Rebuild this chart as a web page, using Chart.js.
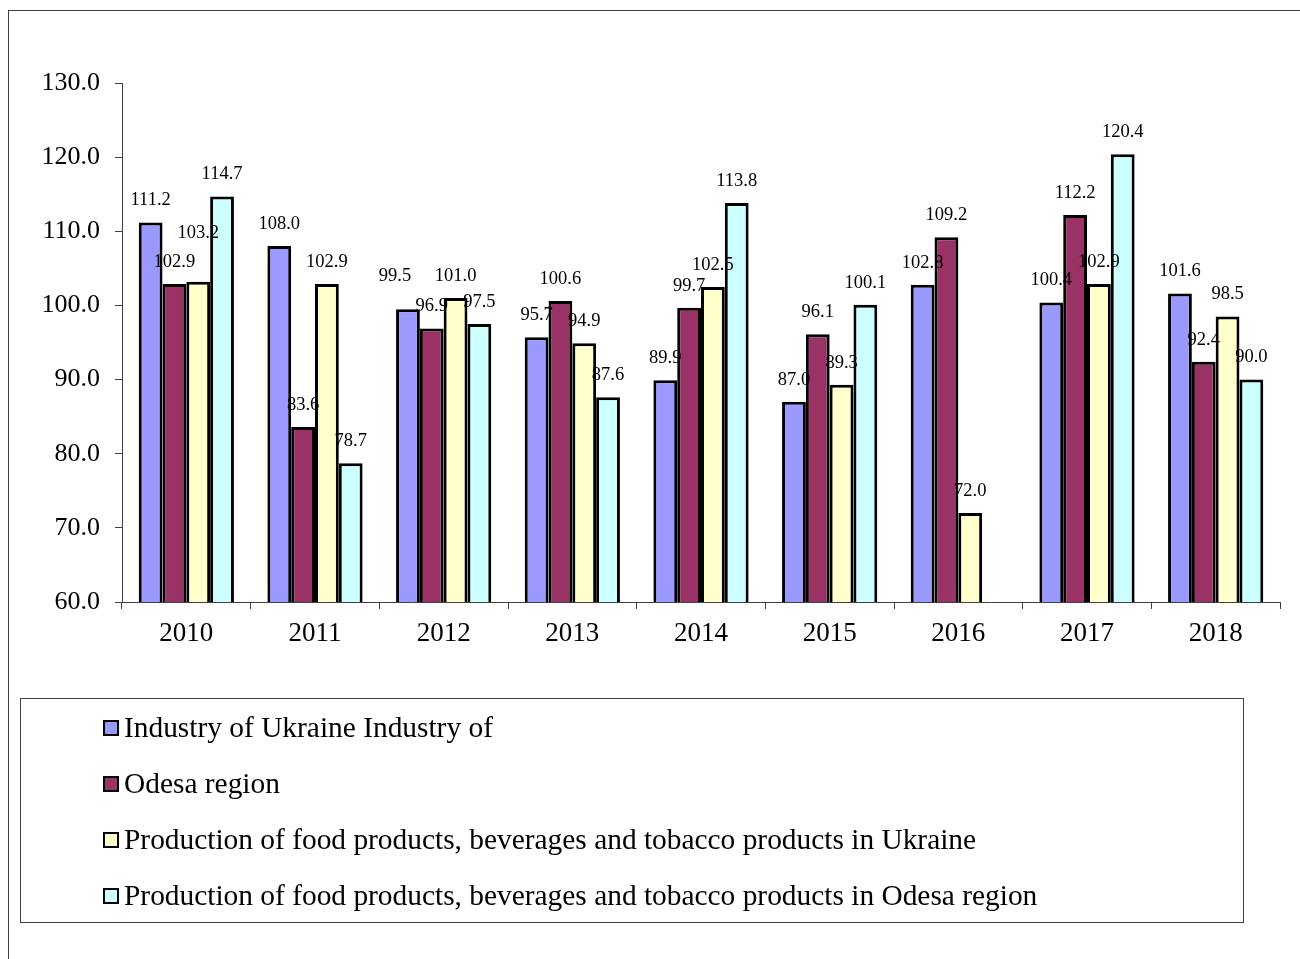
<!DOCTYPE html>
<html>
<head>
<meta charset="utf-8">
<script src="https://cdn.jsdelivr.net/npm/chart.js@4.4.0/dist/chart.umd.min.js"></script>
<style>
    html, body { margin: 0; padding: 0; background: #fff; }
    #wrap { width: 1300px; height: 959px; }
</style>
</head>
<body>
<div id="wrap"><canvas id="chart" width="1300" height="959"></canvas></div>
<script>
const years = ['2010', '2011', '2012', '2013', '2014', '2015', '2016', '2017', '2018'];
const industryUkraine = [111.2, 108.0, 99.5, 95.7, 89.9, 87.0, 102.8, 100.4, 101.6];
const industryOdesa = [102.9, 83.6, 96.9, 100.6, 99.7, 96.1, 109.2, 112.2, 92.4];
const foodUkraine = [103.2, 102.9, 101.0, 94.9, 102.5, 89.3, 72.0, 102.9, 98.5];
const foodOdesa = [114.7, 78.7, 97.5, 87.6, 113.8, 100.1, null, 120.4, 90.0];
const seriesNames = [
    'Industry of Ukraine Industry of',
    'Odesa region',
    'Production of food products, beverages and tobacco products in Ukraine',
    'Production of food products, beverages and tobacco products in Odesa region'
];
const seriesColors = ['#9999ff', '#993366', '#ffffcc', '#ccffff'];
const yMin = 60, yMax = 130, yStep = 10;

// a couple of labels were dragged by hand in the original
const labelNudge = { '2-0': [0, -27], '0-2': [-13, -11] };

const serif = '"Liberation Serif", "Times New Roman", serif';

const frame = {
    id: 'frame',
    beforeDraw(chart) {
        const ctx = chart.ctx;
        ctx.save();
        ctx.fillStyle = '#fff';
        ctx.fillRect(0, 0, chart.width, chart.height);
        ctx.strokeStyle = '#404040';
        ctx.lineWidth = 1;
        ctx.strokeRect(8.5, 10.5, 1300, 960);
        ctx.restore();
    }
};

const barLabels = {
    id: 'barLabels',
    afterDatasetsDraw(chart) {
        const ctx = chart.ctx;
        ctx.save();
        ctx.font = '18.5px ' + serif;
        ctx.fillStyle = '#000';
        ctx.textAlign = 'center';
        ctx.textBaseline = 'middle';
        chart.data.datasets.forEach((ds, di) => {
            chart.getDatasetMeta(di).data.forEach((bar, i) => {
                const v = ds.data[i];
                if (v == null) return;
                const n = labelNudge[di + '-' + i] || [0, 0];
                ctx.fillText(v.toFixed(1), bar.x + n[0], bar.y - 22 + n[1]);
            });
        });
        ctx.restore();
    }
};

const boxLegend = {
    id: 'boxLegend',
    afterDraw(chart) {
        const ctx = chart.ctx;
        ctx.save();
        ctx.strokeStyle = '#404040';
        ctx.lineWidth = 1;
        ctx.strokeRect(20.5, 698.5, 1223, 224);
        ctx.font = '29.4px ' + serif;
        ctx.textBaseline = 'middle';
        ctx.textAlign = 'left';
        chart.data.datasets.forEach((ds, i) => {
            const cy = 728 + i * 56;
            ctx.fillStyle = ds.backgroundColor;
            ctx.fillRect(104, cy - 7, 14, 14);
            ctx.strokeStyle = '#000';
            ctx.lineWidth = 2;
            ctx.strokeRect(104, cy - 7, 14, 14);
            ctx.fillStyle = '#000';
            ctx.fillText(ds.label, 124, cy + 1);
        });
        ctx.restore();
    }
};

const seriesData = [industryUkraine, industryOdesa, foodUkraine, foodOdesa];

new Chart(document.getElementById('chart').getContext('2d'), {
    type: 'bar',
    data: {
        labels: years,
        datasets: seriesData.map((d, i) => ({
            label: seriesNames[i],
            data: d,
            backgroundColor: seriesColors[i],
            borderColor: '#000',
            borderWidth: 3,
            borderSkipped: false,
            categoryPercentage: 0.74,
            barPercentage: 1.0
        }))
    },
    options: {
        responsive: false,
        animation: false,
        devicePixelRatio: 1,
        layout: { padding: { top: 83, left: 0, right: 20, bottom: 297 } },
        plugins: {
            legend: { display: false },
            tooltip: { enabled: false }
        },
        scales: {
            x: {
                grid: { drawOnChartArea: false, tickLength: 7, color: '#404040', offset: true },
                border: { color: '#404040' },
                ticks: { font: { family: serif, size: 27 }, color: '#000', padding: 9 },
                afterFit(s) { s.height = 60; }
            },
            y: {
                min: yMin,
                max: yMax,
                grid: { drawOnChartArea: false, tickLength: 7, color: '#404040' },
                border: { color: '#404040' },
                ticks: {
                    stepSize: yStep,
                    font: { family: serif, size: 26 },
                    color: '#000',
                    padding: 15,
                    callback: v => v.toFixed(1)
                },
                afterFit(s) { s.width = 122; }
            }
        }
    },
    plugins: [frame, barLabels, boxLegend]
});
</script>
</body>
</html>
